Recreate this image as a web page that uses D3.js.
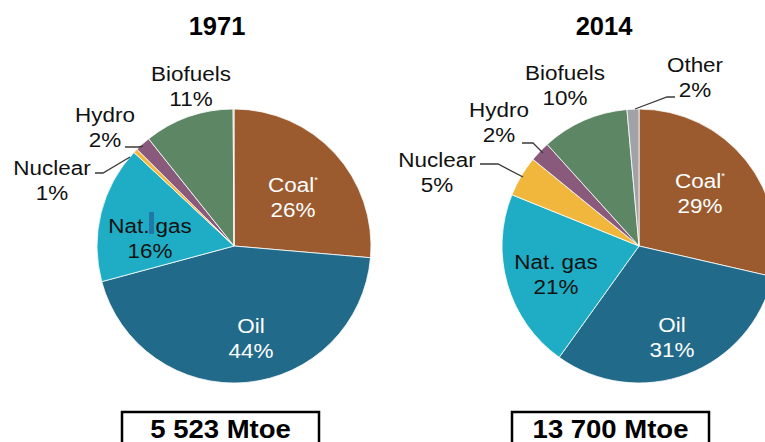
<!DOCTYPE html>
<html>
<head>
<meta charset="utf-8">
<script src="https://cdn.jsdelivr.net/npm/d3@7"></script>
<style>
  body { margin: 0; background: #fff; }
  text { font-family: "Liberation Sans", Arial, sans-serif; }
</style>
</head>
<body>
<div id="chart-container"></div>
<script>
// data
const categories = ["Coal", "Oil", "Nat. gas", "Nuclear", "Hydro", "Biofuels", "Other"];
const values1971 = [26.1, 44.0, 16.0, 0.5, 1.8, 10.5, 0.1];
const values2014 = [28.6, 31.3, 21.2, 4.8, 2.4, 10.3, 1.4];
const pct1971 = ["26%", "44%", "16%", "1%", "2%", "11%", null];
const pct2014 = ["29%", "31%", "21%", "5%", "2%", "10%", "2%"];
const years = ["1971", "2014"];
const totals = ["5 523 Mtoe", "13 700 Mtoe"];

const colors = d3.scaleOrdinal()
  .domain(categories)
  .range(["#9b5b2f", "#216a8a", "#1fadc5", "#f1b63c", "#8a5a7c", "#5d8764", "#a0a2a8"]);

const width = 765, height = 442;
const radius = 137;

const svg = d3.select("#chart-container")
  .append("svg")
  .attr("width", width)
  .attr("height", height);

// label layout per pie (relative to pie centre)
const layouts = [
  {
    cx: 234, cy: 246, titleX: 217, boxX: 122, boxW: 197,
    labels: {
      "Coal":     {x: 59,  y: -54, white: true},
      "Oil":      {x: 17,  y: 87,  white: true},
      "Nat. gas": {x: -84, y: -13},
      "Nuclear":  {x: -182, y: -71, leader: [[-139, -73], [-131, -73], [-104, -89]]},
      "Hydro":    {x: -129, y: -124, leader: [[-109, -99], [-95, -99], [-91, -100]]},
      "Biofuels": {x: -43, y: -165}
    }
  },
  {
    cx: 639, cy: 246, titleX: 604, boxX: 512, boxW: 197,
    labels: {
      "Coal":     {x: 61,  y: -58, white: true},
      "Oil":      {x: 33,  y: 86,  white: true},
      "Nat. gas": {x: -83, y: 23},
      "Nuclear":  {x: -202, y: -79, leader: [[-159, -82], [-141, -82], [-116, -69]]},
      "Hydro":    {x: -140, y: -129, leader: [[-117, -103], [-106, -103], [-96, -93]]},
      "Biofuels": {x: -74, y: -166},
      "Other":    {x: 56,  y: -174, leader: [[36, -149], [28, -149], [-4, -137]]}
    }
  }
];

const pie = d3.pie().sort(null).value(d => d.value);
const arc = d3.arc().innerRadius(0).outerRadius(radius);

const stretch = 1.07; // labels in the source are slightly wide
function label(g, x, y, lines, opts) {
  const t = g.append("text")
    .attr("transform", `translate(${x},${y}) scale(${opts.sx || stretch},1)`)
    .attr("text-anchor", "middle")
    .attr("font-size", opts.size || 21)
    .attr("font-weight", opts.bold ? "bold" : null)
    .attr("fill", opts.fill || "#111");
  lines.forEach((ln, i) => {
    t.append("tspan").attr("x", 0).attr("y", i * (opts.gap || 25)).text(ln);
    if (ln === "Coal") {
      t.append("tspan").attr("dy", -9).attr("font-size", 9).text("*");
    }
  });
  return t;
}

[values1971, values2014].forEach((vals, k) => {
  const L = layouts[k];
  const pcts = k === 0 ? pct1971 : pct2014;
  const data = categories.map((c, i) => ({name: c, value: vals[i], pct: pcts[i]}));

  const g = svg.append("g").attr("transform", `translate(${L.cx},${L.cy})`);

  g.selectAll("path.slice")
    .data(pie(data))
    .join("path")
    .attr("class", "slice")
    .attr("d", arc)
    .attr("fill", d => colors(d.data.name))
    .attr("stroke", "#fff")
    .attr("stroke-width", 0.8);

  // leader lines
  data.forEach(d => {
    const lab = L.labels[d.name];
    if (!lab || !lab.leader) return;
    g.append("path")
      .attr("d", d3.line()(lab.leader))
      .attr("fill", "none")
      .attr("stroke", "#3a3a3a")
      .attr("stroke-width", 1.3);
  });

  // stray highlight block seen in the 1971 gas label
  if (k === 0) {
    g.append("rect")
      .attr("x", -85).attr("y", -34)
      .attr("width", 5).attr("height", 22)
      .attr("fill", "#1f78a8");
  }

  // labels
  data.forEach(d => {
    const lab = L.labels[d.name];
    if (!lab || !d.pct) return;
    label(g, lab.x, lab.y, [d.name, d.pct], {fill: lab.white ? "#fff" : "#111"});
  });

  // title
  svg.append("text")
    .attr("x", L.titleX).attr("y", 35)
    .attr("text-anchor", "middle")
    .attr("font-size", 25.5)
    .attr("font-weight", "bold")
    .attr("fill", "#000")
    .text(years[k]);

  // total box
  svg.append("rect")
    .attr("x", L.boxX).attr("y", 412)
    .attr("width", L.boxW).attr("height", 45)
    .attr("fill", "#fff")
    .attr("stroke", "#000")
    .attr("stroke-width", 2.5);

  label(svg, L.boxX + L.boxW / 2, 438, [totals[k]], {bold: true, size: 25, sx: 1.1, fill: "#000"});
});
</script>
</body>
</html>
